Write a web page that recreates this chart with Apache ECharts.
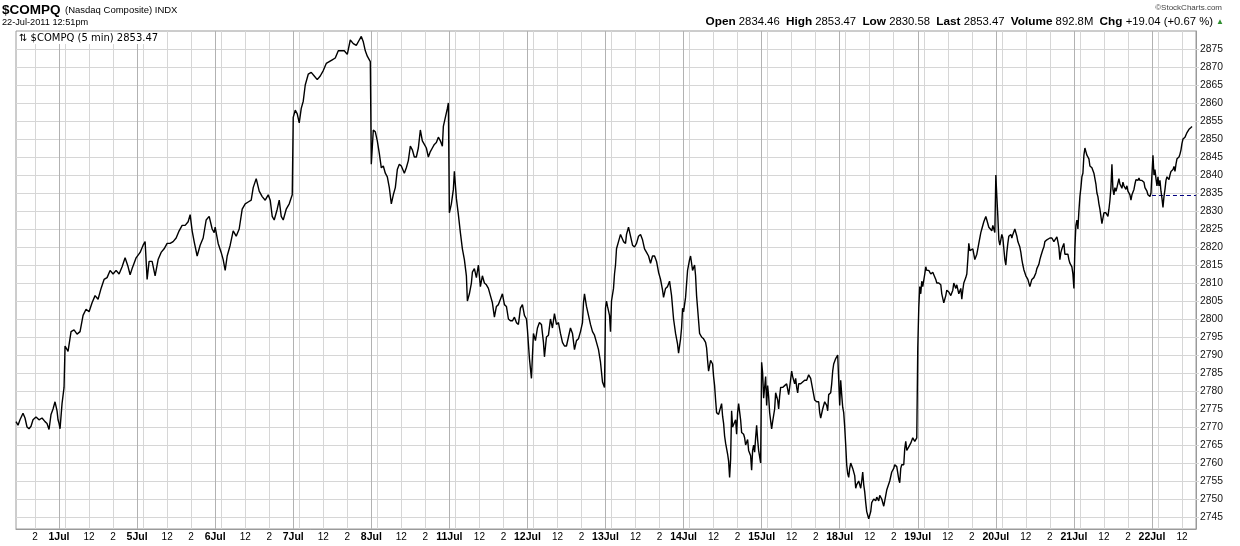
<!DOCTYPE html>
<html>
<head>
<meta charset="utf-8">
<script src="https://cdn.jsdelivr.net/npm/echarts@6/dist/echarts.min.js"></script>
<style>
html,body{margin:0;padding:0;background:#fff;}
#chart{width:1240px;height:546px;}
</style>
</head>
<body>
<div id="chart"></div>
<script>
// ---- sessions on the axis (5-minute bars, 78 per session starting 09:30) ----
const dayLabels = ['30Jun','1Jul','5Jul','6Jul','7Jul','8Jul','11Jul','12Jul','13Jul','14Jul','15Jul','18Jul','19Jul','20Jul','21Jul','22Jul'];
const barsPerDay = 78;
const firstBar = 35;   // first slot shown on 30 Jun
const lastSlot = 44;   // last slot of the axis on 22 Jul

// ---- readings: [bar of session, value] ----
const d0630 = [[35,2771.5],[37,2770.5],[39,2772],[42,2773.8],[44,2772.5],[46,2770],[48,2769.5],[50,2770.2],[52,2772],[55,2772.8],[58,2772],[61,2772.5],[64,2771.5],[66,2771],[68,2769.3],[70,2773.5],[72,2775],[74,2777],[76,2774.5],[77,2772]];
const d0701 = [[0,2771],[1,2769.5],[3,2776.5],[5,2781],[6,2792.5],[9,2791],[12,2796.5],[15,2797],[18,2795.8],[21,2796.5],[24,2801],[27,2802.7],[30,2802],[33,2804.5],[36,2806.5],[39,2805.5],[42,2808.5],[45,2811],[48,2811.5],[51,2813.5],[54,2812.5],[57,2813.5],[60,2812.5],[63,2814.5],[66,2817],[69,2814.5],[71,2812.3],[73,2814],[75,2815.5],[77,2817]];
const d0705 = [[0,2817.5],[3,2818.5],[6,2820.5],[8,2821.5],[10,2811],[12,2816],[15,2816],[18,2812],[21,2816.5],[24,2818.5],[27,2819.5],[30,2821],[33,2821],[36,2821.5],[39,2822.5],[42,2824.5],[45,2826],[48,2826],[51,2827],[53,2829],[55,2824.5],[57,2821.5],[60,2817.5],[63,2820.5],[66,2822.5],[69,2827.5],[72,2828.5],[75,2825],[77,2824]];
const d0706 = [[0,2825.5],[3,2821],[6,2818.5],[8,2816.5],[10,2813.5],[12,2817.5],[15,2820.5],[18,2824.5],[21,2823],[24,2825],[27,2830.5],[30,2832],[33,2832.5],[36,2833],[38,2836.5],[41,2839],[44,2835.5],[47,2834],[50,2833],[53,2834.5],[55,2833],[57,2828.5],[59,2827.5],[62,2830.5],[64,2833],[66,2828.5],[68,2827.5],[71,2830.5],[74,2832],[77,2834.5]];
const d0707 = [[0,2856],[2,2858],[4,2857],[6,2854.5],[8,2858.5],[10,2860.5],[12,2865],[15,2868],[18,2868.5],[21,2867.5],[24,2866.5],[27,2867.5],[30,2869],[33,2871],[36,2871.5],[39,2872],[42,2872.5],[45,2874.5],[48,2874.5],[51,2874.5],[54,2873.5],[57,2877.5],[60,2876.5],[63,2876],[66,2877.5],[68,2878.5],[70,2877],[72,2874.5],[74,2873],[77,2871.5]];
const d0708 = [[0,2843],[2,2852.5],[4,2852],[6,2849.5],[8,2846],[10,2842],[12,2842.5],[14,2840.5],[16,2839.5],[18,2836.5],[20,2832],[22,2834.5],[24,2836.5],[26,2841.5],[28,2843],[30,2842.5],[33,2840.5],[35,2842],[37,2844],[39,2848],[41,2847],[43,2845],[45,2845],[47,2847.5],[49,2852.5],[51,2849.5],[53,2848.5],[55,2847.5],[57,2845],[59,2846.5],[61,2847.5],[63,2848.5],[65,2849],[67,2850.5],[69,2849.5],[71,2848],[72,2853.5],[74,2856],[76,2858.5],[77,2860]];
const d0711 = [[0,2829.5],[2,2832],[4,2836],[5,2841],[7,2833.5],[9,2829],[11,2824],[13,2819.5],[15,2816.5],[17,2812],[18,2805],[20,2807],[22,2810],[23,2813],[25,2814],[27,2811.5],[29,2815],[31,2809],[33,2812],[35,2810],[37,2809.5],[39,2808.5],[41,2806.5],[43,2804.5],[45,2800.5],[47,2803.5],[49,2804],[51,2805.5],[53,2807],[55,2804],[57,2803.5],[59,2800],[61,2799.5],[63,2799.5],[65,2800.5],[67,2799],[69,2798.5],[71,2803],[73,2804],[75,2801],[77,2800]];
const d0712 = [[0,2797],[2,2789],[4,2783.5],[6,2796],[8,2794],[10,2797.5],[12,2799],[14,2798.5],[16,2793.5],[17,2789.5],[19,2795],[21,2795.5],[23,2800],[25,2797.5],[27,2801.5],[29,2798.5],[31,2799],[33,2796],[35,2793.5],[37,2792.5],[39,2792.5],[41,2795],[43,2797.5],[45,2796],[47,2791.5],[49,2794],[51,2794.5],[53,2796.5],[55,2799],[56,2804.5],[57,2807],[59,2803.5],[61,2801],[63,2798.5],[65,2796.5],[67,2795.5],[69,2793.5],[71,2791.5],[73,2788],[75,2782.5],[77,2781]];
const d0713 = [[0,2803],[1,2805],[2,2803.5],[4,2801],[5,2796.5],[6,2805],[8,2808.5],[9,2812.5],[10,2815],[11,2819.5],[13,2821.5],[15,2823.5],[16,2823.5],[18,2821.5],[20,2821],[21,2823.5],[23,2825.5],[25,2823],[27,2820.5],[29,2820],[31,2821],[33,2823],[35,2823.5],[37,2822],[39,2819.5],[41,2818.5],[43,2817.5],[45,2815.5],[47,2817.5],[49,2817.5],[51,2816],[53,2813],[55,2811],[57,2808],[58,2806],[60,2808.5],[62,2809],[64,2810.5],[66,2806.5],[68,2800],[70,2796],[72,2793],[73,2790.5],[75,2794.5],[76,2797.5],[77,2803]];
const d0714 = [[0,2802],[2,2806],[4,2813.5],[5,2813],[6,2816.5],[7,2817.5],[9,2813.5],[11,2815],[12,2812],[13,2806.5],[15,2799.5],[16,2796],[18,2795],[20,2794.5],[22,2793.5],[23,2792],[24,2788.5],[25,2785.5],[27,2788.5],[29,2787.5],[30,2784],[31,2781.5],[32,2777.5],[33,2774],[35,2773.5],[36,2773],[38,2776.5],[39,2773],[40,2771],[41,2767.5],[42,2765.5],[44,2762.5],[45,2760.5],[46,2756],[47,2761],[48,2774.5],[49,2770],[50,2769.5],[52,2772],[53,2768],[54,2774],[55,2776.5],[57,2772],[58,2768.5],[60,2768],[61,2767],[62,2765],[64,2766.5],[65,2763.5],[67,2762],[68,2758],[69,2763.5],[70,2765],[71,2763],[72,2767],[73,2770.5],[74,2766.5],[75,2763.5],[77,2760]];
const d0715 = [[0,2788],[1,2785],[2,2778],[3,2777.5],[4,2784],[5,2776],[6,2781.5],[7,2778.5],[8,2774],[10,2769.5],[11,2771.5],[12,2771],[13,2775],[14,2779.5],[16,2777.5],[17,2775],[18,2778.5],[19,2781],[21,2781],[23,2781.5],[25,2782],[27,2779],[28,2781],[30,2785.5],[31,2784],[33,2782],[34,2783.5],[35,2781],[36,2779.5],[37,2782],[39,2782],[41,2782.5],[43,2783],[45,2783],[47,2784.5],[49,2783.5],[50,2782],[52,2779],[53,2777.5],[55,2777],[57,2777],[58,2774],[59,2772.5],[61,2775],[63,2777],[65,2776],[66,2774.5],[67,2779],[69,2779.5],[70,2782],[71,2785.5],[72,2787.5],[74,2789],[76,2790],[77,2790.5]];
const d0718 = [[0,2776],[1,2783],[2,2779],[3,2775.5],[4,2774],[5,2770],[6,2765],[7,2759.5],[8,2757],[9,2756],[10,2758.5],[11,2760],[13,2758.5],[15,2756.5],[16,2753],[17,2754],[18,2753.5],[19,2755],[21,2753],[22,2755],[23,2757.5],[24,2754],[25,2752],[26,2749],[27,2746.5],[28,2746],[29,2744.5],[30,2744],[31,2746.5],[32,2749],[34,2750],[35,2750.5],[36,2749.5],[37,2750.5],[39,2749.5],[40,2751],[42,2750],[43,2750],[44,2748],[45,2749.5],[47,2752.5],[48,2753],[50,2755],[52,2757.5],[54,2758.5],[55,2759.5],[57,2759],[59,2755.5],[60,2754.5],[61,2758.5],[62,2759.5],[64,2759.5],[65,2764],[66,2766],[67,2763.5],[69,2764.5],[71,2765.5],[73,2767],[75,2766],[77,2767]];
const d0719 = [[0,2792],[1,2803],[2,2809],[3,2807],[4,2810.5],[5,2809],[7,2812.5],[8,2814.5],[9,2813.5],[11,2813.5],[13,2812.5],[15,2813],[16,2813],[18,2811],[19,2810],[21,2810],[23,2809.5],[24,2807],[26,2804.5],[28,2806.5],[29,2808],[31,2807.5],[33,2806.5],[35,2808],[36,2810],[38,2808.5],[39,2809.5],[41,2807],[43,2808.5],[44,2805.5],[45,2808],[46,2810],[48,2811.5],[49,2812.5],[50,2816.5],[51,2821],[52,2819],[53,2818.5],[55,2819.5],[56,2818],[57,2816.5],[59,2818],[60,2819.5],[61,2821],[63,2824],[64,2825],[66,2827],[67,2827.5],[68,2828.5],[69,2827.5],[71,2825.5],[72,2825],[74,2824.5],[75,2826],[76,2825],[77,2824]];
const d0720 = [[0,2840],[1,2834],[2,2828.5],[3,2822],[4,2820.5],[6,2823.5],[7,2822.5],[8,2819.5],[9,2816.5],[10,2815],[11,2818.5],[12,2821],[13,2823],[15,2823.5],[16,2822.5],[17,2823.5],[19,2825],[20,2825.5],[21,2823],[22,2821.5],[24,2820],[25,2818.5],[26,2816.5],[27,2815],[28,2813.7],[30,2812],[32,2811],[33,2810.5],[34,2809],[35,2809.5],[36,2811],[37,2810.5],[38,2811.5],[40,2812.8],[41,2814],[43,2815.2],[44,2816.5],[45,2817.5],[47,2819.3],[48,2820],[49,2821.5],[51,2822],[52,2822.5],[54,2822.5],[55,2823],[56,2822.5],[58,2821.5],[59,2822],[61,2822.8],[62,2821.5],[63,2820],[64,2816.5],[65,2818.5],[66,2819.5],[67,2820],[68,2821],[69,2818],[70,2817.5],[72,2818],[73,2816.5],[74,2815.5],[75,2815],[76,2814.5],[77,2812.5]];
const d0721 = [[0,2808.5],[1,2820],[2,2826],[3,2827.5],[4,2825],[5,2830],[6,2834],[7,2836.5],[8,2839.5],[9,2840.5],[10,2845.5],[11,2847.5],[12,2846.5],[13,2845.5],[15,2844.5],[16,2842.5],[18,2842],[19,2841.5],[20,2840.5],[22,2837.5],[23,2835],[24,2834],[25,2832],[26,2830.5],[27,2828.5],[28,2826.5],[30,2829.5],[31,2829],[32,2829.5],[34,2828.5],[35,2830.5],[36,2833],[37,2836.5],[38,2843],[39,2836],[40,2834.5],[41,2836.5],[42,2835.5],[43,2836.5],[44,2836.8],[45,2839],[46,2837.5],[48,2836.3],[49,2838],[50,2837],[52,2836],[53,2837],[54,2835.5],[56,2834.5],[57,2833],[58,2834.5],[60,2836],[61,2837.5],[62,2838.7],[64,2838.5],[65,2839.2],[66,2838.5],[68,2838.5],[69,2838.7],[70,2838],[71,2836.5],[73,2835.5],[74,2834.5],[75,2834],[76,2834],[77,2835]];
const d0722 = [[0,2834.5],[1,2845.5],[2,2840],[3,2841.5],[4,2839],[5,2837],[6,2839.5],[7,2837],[8,2838.5],[9,2835.5],[10,2833.5],[11,2831],[12,2834],[13,2836],[14,2838.5],[15,2839.5],[17,2838.7],[18,2840],[19,2841],[20,2841.5],[21,2841.5],[22,2842.4],[23,2841],[24,2843],[25,2844.5],[26,2844.7],[27,2845],[28,2845.8],[29,2847],[30,2848.8],[31,2850],[32,2849.8],[33,2850.5],[34,2851],[35,2851.8],[36,2852.3],[37,2852.7],[38,2853],[39,2853.2],[40,2853.47]];
const sessions = [d0630,d0701,d0705,d0706,d0707,d0708,d0711,d0712,d0713,d0714,d0715,d0718,d0719,d0720,d0721,d0722];

// ---- value axis ----
const yTicks = [2745,2750,2755,2760,2765,2770,2775,2780,2785,2790,2795,2800,2805,2810,2815,2820,2825,2830,2835,2840,2845,2850,2855,2860,2865,2870,2875];
const yMax = 2880;
const yMin = 2741.67;

// ---- header values ----
const symbol = '$COMPQ';
const symbolName = '(Nasdaq Composite) INDX';
const stamp = '22-Jul-2011 12:51pm';
const quote = {open:'2834.46', high:'2853.47', low:'2830.58', last:'2853.47', volume:'892.8M', chg:'+19.04', chgPct:'+0.67'};
const prevClose = 2834.43;

// ---- build category slots ----
const cats = [];
const slotInfo = {};
function hhmm(bar){const m=570+bar*5;const h=Math.floor(m/60),mm=m%60;return (h<10?'0':'')+h+':'+(mm<10?'0':'')+mm;}
const dayStartIndex = [];
dayLabels.forEach((d, di) => {
  const b0 = di === 0 ? firstBar : 0;
  const b1 = di === dayLabels.length - 1 ? lastSlot : barsPerDay - 1;
  dayStartIndex.push(cats.length - b0);
  for (let b = b0; b <= b1; b++) {
    const name = d + ' ' + hhmm(b);
    cats.push(name);
    slotInfo[name] = {day: di, bar: b};
  }
});
const lineData = [];
sessions.forEach((s, di) => s.forEach(p => lineData.push([dayStartIndex[di] + p[0], p[1]])));

const chart = echarts.init(document.getElementById('chart'), null, {renderer:'canvas'});
const FONT = '"Liberation Sans", Arial, sans-serif';
const lightGrid = '#d6d6d6';
const darkGrid = '#b2b2b2';
const frame = '#9a9a9a';

chart.setOption({
  animation: false,
  backgroundColor: '#ffffff',
  grid: {left: 16, right: 44, top: 31, bottom: 17, show: true, borderColor: frame, borderWidth: 1, containLabel: false},
  xAxis: [{
    type: 'category', data: cats, boundaryGap: false, position: 'bottom',
    axisLine: {show: true, lineStyle: {color: frame}},
    axisTick: {show: false},
    axisLabel: {
      show: true, margin: 3, color: '#000', fontSize: 10, fontFamily: FONT,
      interval: (i, v) => { const s = slotInfo[v]; return s && (s.bar === 0 || s.bar === 30 || s.bar === 54); },
      formatter: (v) => { const s = slotInfo[v]; if (!s) return ''; if (s.bar === 0) return '{d|' + dayLabels[s.day] + '}'; if (s.bar === 30) return '12'; if (s.bar === 54) return '2'; return ''; },
      rich: {d: {fontWeight: 'bold', fontSize: 10.5, fontFamily: FONT, color: '#000'}}
    },
    splitLine: {show: true, interval: (i, v) => { const s = slotInfo[v]; return s && (s.bar === 6 || s.bar === 30 || s.bar === 54); }, lineStyle: {color: lightGrid, width: 1}}
  }, {
    type: 'category', data: cats, boundaryGap: false, position: 'top',
    axisLine: {show: false}, axisTick: {show: false}, axisLabel: {show: false},
    splitLine: {show: true, interval: (i, v) => { const s = slotInfo[v]; return s && s.bar === 0; }, lineStyle: {color: darkGrid, width: 1}}
  }],
  yAxis: {
    type: 'value', position: 'right', min: yMin, max: yMax, scale: true,
    axisLine: {show: true, lineStyle: {color: frame}},
    axisTick: {show: true, length: 3, inside: false, customValues: yTicks, lineStyle: {color: lightGrid}},
    axisLabel: {show: true, customValues: yTicks, margin: 4, color: '#111', fontSize: 10.3, fontFamily: FONT, formatter: v => String(v)},
    splitLine: {show: true, lineStyle: {color: lightGrid, width: 1}}
  },
  graphic: [
    {type: 'text', left: 2, top: 3, z: 100, style: {text: symbol, font: 'bold 13.5px ' + FONT, fill: '#000'}},
    {type: 'text', left: 65, top: 5, z: 100, style: {text: symbolName, font: '9.5px ' + FONT, fill: '#000'}},
    {type: 'text', left: 2, top: 18, z: 100, style: {text: stamp, font: '9.2px ' + FONT, fill: '#000'}},
    {type: 'text', left: 17, top: 32, z: 100, style: {text: '⇅ ' + symbol + ' (5 min) ' + quote.last, font: '10px "DejaVu Sans", sans-serif', fill: '#000', backgroundColor: '#fff', padding: [1, 3, 1, 2]}},
    {type: 'text', right: 18, top: 4, z: 100, style: {text: '\u00A9StockCharts.com', font: '8px ' + FONT, fill: '#444'}},
    {type: 'text', right: 16, top: 16, z: 100, style: {
      text: '{b|Open} ' + quote.open + '  {b|High} ' + quote.high + '  {b|Low} ' + quote.low + '  {b|Last} ' + quote.last + '  {b|Volume} ' + quote.volume + '  {b|Chg} ' + quote.chg + ' (' + quote.chgPct + ' %) {u|\u25B2}',
      font: '11.3px ' + FONT, fill: '#000',
      rich: {b: {fontWeight: 'bold', fontSize: 11.8, fontFamily: FONT, fill: '#000'}, u: {fontSize: 8, fill: '#2f8f2f', fontFamily: FONT}}
    }}
  ],
  series: [{
    type: 'line', xAxisIndex: 0, yAxisIndex: 0, data: lineData, showSymbol: false, symbol: 'none',
    lineStyle: {color: '#000', width: 1.4}, connectNulls: true, silent: true, z: 10,
    markLine: {
      silent: true, symbol: ['none', 'none'], label: {show: false},
      lineStyle: {color: '#000080', type: [4, 3], width: 1},
      data: [[{coord: [dayStartIndex[15], prevClose]}, {coord: [cats.length - 1, prevClose]}]]
    }
  }]
});
</script>
</body>
</html>
